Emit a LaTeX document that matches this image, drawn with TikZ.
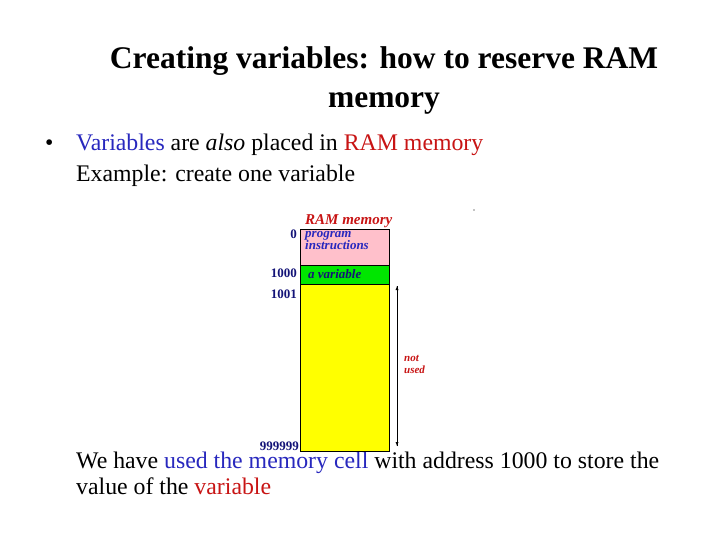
\documentclass[tikz,border=0pt]{standalone}
\usepackage{fontspec}
\setmainfont{Liberation Serif}
\begin{document}
\begin{tikzpicture}[x=1pt,y=-1pt,
  txt/.style={anchor=base west,inner sep=0,font=\fontsize{23.8}{28}\selectfont},
  lab/.style={inner sep=0,font=\fontsize{10}{11}\selectfont\bfseries\itshape},
  addr/.style={inner sep=0,anchor=east,font=\fontsize{13}{14}\selectfont\bfseries,text=blueD}]
\definecolor{blueT}{RGB}{40,40,190}
\definecolor{redT}{RGB}{200,20,20}
\definecolor{blueD}{RGB}{20,20,120}
\definecolor{pinkM}{RGB}{255,192,203}
\definecolor{greenM}{RGB}{0,230,0}
\definecolor{yellowM}{RGB}{255,255,0}
\useasboundingbox (0,0) rectangle (720,540);
\fill[white] (0,0) rectangle (720,540);
\node[inner sep=0,align=center,font=\fontsize{31.5}{39}\selectfont\bfseries,anchor=north] (title) at (384,46) {Creating variables: how to reserve RAM\\memory};
\node[txt] (bul) at (45,151) {\textbullet};
\node[txt] (l1) at (76,151) {\textcolor{blueT}{Variables} are \textit{also} placed in \textcolor{redT}{RAM memory}};
\node[txt] (l2) at (76,182) {Example: create one variable};
\node[txt] (l3) at (76,468) {We have \textcolor{blueT}{used the memory cell} with address 1000 to store the};
\node[txt] (l4) at (76,494) {value of the \textcolor{redT}{variable}};
\fill[white] (255,205) rectangle (480,451);
\fill[black] (474,210) circle (0.6);
\draw[fill=pinkM] (300,229) rectangle (389,265);
\draw[fill=greenM] (300,265) rectangle (389,284);
\draw[fill=yellowM] (300,284) rectangle (389,451);
\node[lab,text=redT,anchor=base west,font=\fontsize{15}{16}\selectfont\bfseries\itshape] (ram) at (305,225) {RAM memory};
\node[lab,text=blueT,anchor=north west,align=left,font=\fontsize{13}{12}\selectfont\bfseries\itshape] (prog) at (305,231) {program\\instructions};
\node[lab,text=blueD,anchor=west,font=\fontsize{13}{14}\selectfont\bfseries\itshape] (var) at (308,274) {a variable};
\node[addr] (a0) at (297,234) {0};
\node[addr] (a1000) at (297,273) {1000};
\node[addr] (a1001) at (297,294) {1001};
\node[addr] (a9) at (299,446) {999999};
\coordinate (t) at (397,286);
\coordinate (b) at (397,446);
\draw[-latex] (b) -- (t);
\draw[-latex] (t) -- (b);
\node[lab,text=redT,anchor=west,align=left,font=\fontsize{11}{12}\selectfont\bfseries\itshape] (nu) at (404,364) {not\\used};
\end{tikzpicture}
\end{document}
